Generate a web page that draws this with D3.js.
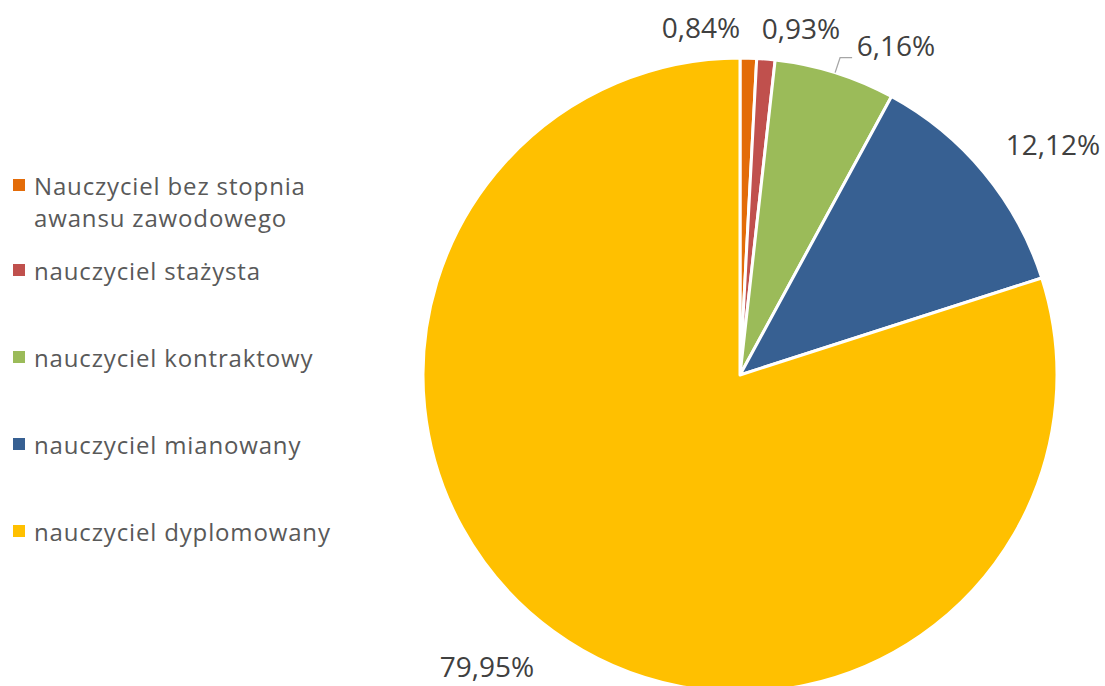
<!DOCTYPE html>
<html><head><meta charset="utf-8">
<script src="https://cdn.jsdelivr.net/npm/d3@7"></script>
<style>body{margin:0;background:#fff}svg{display:block}</style>
</head><body>
<svg id="c" width="1105" height="686"></svg>
<script>
const categories = ["Nauczyciel bez stopnia awansu zawodowego","nauczyciel stażysta","nauczyciel kontraktowy","nauczyciel mianowany","nauczyciel dyplomowany"];
const legendLines = [["Nauczyciel bez stopnia","awansu zawodowego"],["nauczyciel stażysta"],["nauczyciel kontraktowy"],["nauczyciel mianowany"],["nauczyciel dyplomowany"]];
const values = [0.84, 0.93, 6.16, 12.12, 79.95];
const labels = ["0,84%","0,93%","6,16%","12,12%","79,95%"];
const colors = ["#E36C09","#C0504D","#9BBB59","#376092","#FFC000"];

// layout
const cx = 740, cy = 375, R = 317;
const labelPos = [[701,38],[801,39],[896,56],[1053,155],[487,677]];
const legendY = [194,279,366,453,540];

const svg = d3.select("#c");
const g = svg.append("g").attr("transform",`translate(${cx},${cy})`);
const pie = d3.pie().sort(null).value(d=>d);
const arcs = pie(values);
const arc = d3.arc().innerRadius(0).outerRadius(R);
g.selectAll("path").data(arcs).join("path")
  .attr("d",arc).attr("fill",(d,i)=>colors[i])
  .attr("stroke","#fff").attr("stroke-width",3).attr("stroke-linejoin","round");

// leader line for 6,16%
{
  const a = (arcs[2].startAngle+arcs[2].endAngle)/2;
  const x0 = cx + R*Math.sin(a), y0 = cy - R*Math.cos(a);
  svg.append("polyline").attr("points",`${x0},${y0} ${x0+5},${y0-15} ${x0+17},${y0-15}`)
    .attr("fill","none").attr("stroke","#A6A6A6").attr("stroke-width",1.3);
}

svg.selectAll("text.lbl").data(labels).join("text").attr("class","lbl")
  .attr("x",(d,i)=>labelPos[i][0]).attr("y",(d,i)=>labelPos[i][1])
  .attr("text-anchor","middle").attr("font-family","'Open Sans', sans-serif")
  .attr("font-size",28).attr("fill","#404040").text(d=>d);

const lg = svg.append("g");
categories.forEach((c,i)=>{
  lg.append("rect").attr("x",13).attr("y",legendY[i]-15).attr("width",12).attr("height",12).attr("fill",colors[i]);
  legendLines[i].forEach((t,j)=>{
    lg.append("text").attr("x",34).attr("y",legendY[i]+1+j*32)
      .attr("font-family","'Open Sans', sans-serif").attr("font-size",24)
      .attr("letter-spacing",0.85)
      .attr("fill","#595959").text(t);
  });
});
</script>
</body></html>
